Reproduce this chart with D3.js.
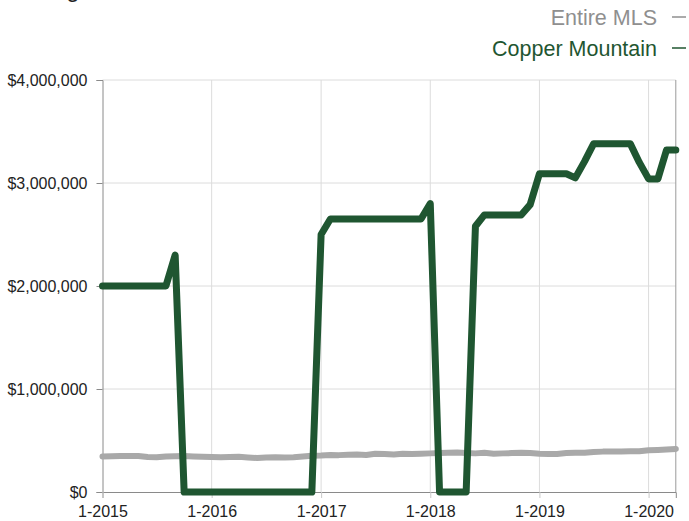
<!DOCTYPE html>
<html><head><meta charset="utf-8">
<script src="https://cdn.jsdelivr.net/npm/d3@7"></script>
<style>body{margin:0;background:#fff}svg{display:block;font-family:"Liberation Sans",Arial,Helvetica,sans-serif}</style>
</head><body><svg id="c" width="689" height="521"></svg>
<script>
const months = d3.range(64).map(i => new Date(2015, i, 1));
const copperMountain = [
 2.0,2.0,2.0,2.0,2.0,2.0,2.0,2.0,2.3,0,0,0,
 0,0,0,0,0,0,0,0,0,0,0,0,
 2.5,2.65,2.65,2.65,2.65,2.65,2.65,2.65,2.65,2.65,2.65,2.65,
 2.8,0,0,0,0,2.58,2.69,2.69,2.69,2.69,2.69,2.79,
 3.09,3.09,3.09,3.09,3.05,3.21,3.38,3.38,3.38,3.38,3.38,3.2,
 3.04,3.04,3.32,3.32
].map(v => v * 1e6);
const entireMLS = [
 0.345,0.348,0.350,0.350,0.349,0.340,0.338,0.345,0.348,0.350,0.345,0.342,
 0.340,0.338,0.340,0.342,0.336,0.330,0.335,0.338,0.335,0.338,0.345,0.352,
 0.355,0.360,0.358,0.362,0.365,0.360,0.372,0.370,0.365,0.372,0.370,0.372,
 0.375,0.378,0.380,0.384,0.378,0.375,0.380,0.372,0.375,0.378,0.380,0.378,
 0.372,0.368,0.370,0.378,0.382,0.380,0.388,0.392,0.392,0.393,0.395,0.395,
 0.405,0.408,0.412,0.418
].map(v => v * 1e6);
const yTicks = [0, 1e6, 2e6, 3e6, 4e6];
const xTicks = [2015, 2016, 2017, 2018, 2019, 2020].map(y => new Date(y, 0, 1));
const seriesNames = ["Entire MLS", "Copper Mountain"];
const seriesColors = ["#a9a9a9", "#1f5631"];

const svg = d3.select("#c");
const L = 102.5, R = 675.8, T = 80, B = 492;
const x = d3.scaleTime().domain([months[0], months[63]]).range([L, R]);
const y = d3.scaleLinear().domain([0, 4e6]).range([B, T]);

// title (cut off at top)
svg.append("text").attr("x", 4).attr("y", -3).attr("font-size", 24).attr("fill", "#222")
  .text("Average Price of Homes Sold");

// gridlines
svg.append("g").selectAll("line").data(yTicks.slice(1)).join("line")
  .attr("x1", L).attr("x2", R).attr("y1", d => y(d)).attr("y2", d => y(d))
  .attr("stroke", "#dcdcdc").attr("stroke-width", 1);
svg.append("g").selectAll("line").data(xTicks.slice(1)).join("line")
  .attr("x1", d => x(d)).attr("x2", d => x(d)).attr("y1", T).attr("y2", B)
  .attr("stroke", "#dcdcdc").attr("stroke-width", 1);

// axes
const yAxis = d3.axisLeft(y).tickValues(yTicks).tickSize(6).tickPadding(9)
  .tickFormat(d => "$" + d3.format(",")(d));
const gy = svg.append("g").attr("transform", `translate(${L},0)`).call(yAxis);
gy.select(".domain").attr("stroke", "#8a8a8a");
gy.selectAll(".tick line").attr("stroke", "#8a8a8a");
gy.selectAll("text").attr("font-size", 16).attr("fill", "#222").attr("font-family", "Liberation Sans, Arial, sans-serif");

const xAxis = d3.axisBottom(x).tickValues(xTicks).tickSize(6).tickPadding(8)
  .tickFormat(d => "1-" + d.getFullYear());
const gx = svg.append("g").attr("transform", `translate(0,${B})`).call(xAxis);
gx.select(".domain").attr("stroke", "#8a8a8a");
gx.selectAll(".tick line").attr("stroke", "#c8c8c8");
gx.selectAll("text").attr("font-size", 16).attr("fill", "#222").attr("font-family", "Liberation Sans, Arial, sans-serif");

// right border
svg.append("line").attr("x1", R).attr("x2", R).attr("y1", T).attr("y2", B).attr("stroke", "#9a9a9a");

const line = d3.line().x((d, i) => x(months[i])).y(d => y(d));
svg.append("path").datum(entireMLS).attr("d", line).attr("fill", "none")
  .attr("stroke", seriesColors[0]).attr("stroke-width", 6).attr("stroke-linejoin", "round").attr("stroke-linecap", "round");
svg.append("path").datum(copperMountain).attr("d", line).attr("fill", "none")
  .attr("stroke", seriesColors[1]).attr("stroke-width", 7).attr("stroke-linejoin", "round").attr("stroke-linecap", "round");

// legend
const leg = svg.append("g");
seriesNames.forEach((n, i) => {
  const yy = 17 + i * 31;
  leg.append("text").attr("x", 657).attr("y", yy).attr("dy", "0.35em").attr("text-anchor", "end")
    .attr("font-size", 21.5).attr("fill", i === 0 ? "#8f8f8f" : seriesColors[1]).text(n);
  leg.append("line").attr("x1", 672).attr("x2", 686).attr("y1", yy).attr("y2", yy)
    .attr("stroke", i === 0 ? "#8f8f8f" : seriesColors[1]).attr("stroke-width", 1.5);
});
</script></body></html>
